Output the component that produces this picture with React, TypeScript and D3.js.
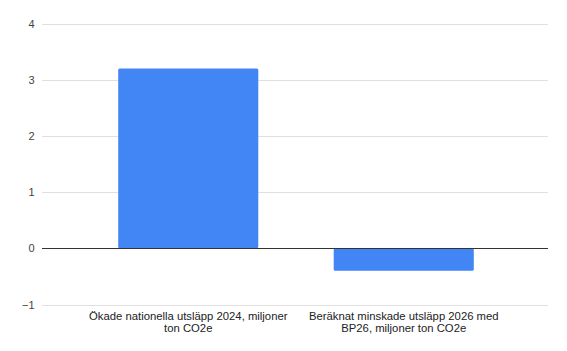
import React from "react";
import * as d3 from "d3";

const categories = [
  ["Ökade nationella utsläpp 2024, miljoner", "ton CO2e"],
  ["Beräknat minskade utsläpp 2026 med", "BP26, miljoner ton CO2e"],
];
const values = [3.2, -0.4];
const yTicks = [-1, 0, 1, 2, 3, 4];

const W = 567;
const H = 351;

export default function App() {
  const y = d3.scaleLinear().domain([-1, 4]).range([304.5, 23.5]);
  const x = d3
    .scaleBand<number>()
    .domain(values.map((_, i) => i))
    .range([80.5, 511.5])
    .paddingInner(0.35)
    .paddingOuter(0.175);
  const gridL = 42;
  const gridR = 548;
  const font = "Arial, 'Liberation Sans', sans-serif";
  return (
    <svg
      width={W}
      height={H}
      style={{ position: "absolute", left: 0, top: 0, background: "#fff" }}
    >
      {yTicks.map((t) => (
        <g key={t}>
          {t !== 0 && (
            <line
              x1={gridL}
              x2={gridR}
              y1={Math.round(y(t)) + 0.5}
              y2={Math.round(y(t)) + 0.5}
              stroke="#e0e0e0"
              strokeWidth={1}
            />
          )}
          <text
            x={34.5}
            y={y(t) + 4}
            textAnchor="end"
            fontFamily={font}
            fontSize={11}
            fill="#444"
          >
            {t < 0 ? "\u2212" + Math.abs(t) : t}
          </text>
        </g>
      ))}
      {values.map((v, i) => {
        const y0 = y(Math.max(0, v));
        const y1 = y(Math.min(0, v));
        return (
          <rect
            key={i}
            x={x(i)}
            y={y0}
            width={x.bandwidth()}
            height={y1 - y0}
            rx={1.5}
            fill="#4285F4"
          />
        );
      })}
      <line
        x1={gridL}
        x2={gridR}
        y1={Math.round(y(0)) + 0.5}
        y2={Math.round(y(0)) + 0.5}
        stroke="#333"
        strokeWidth={1}
      />
      {categories.map((lines, i) => (
        <text
          key={i}
          x={(x(i) as number) + x.bandwidth() / 2}
          textAnchor="middle"
          fontFamily={font}
          fontSize={11.3}
          fill="#222"
        >
          {lines.map((l, j) => (
            <tspan key={j} x={(x(i) as number) + x.bandwidth() / 2} y={320 + j * 12}>
              {l}
            </tspan>
          ))}
        </text>
      ))}
    </svg>
  );
}
